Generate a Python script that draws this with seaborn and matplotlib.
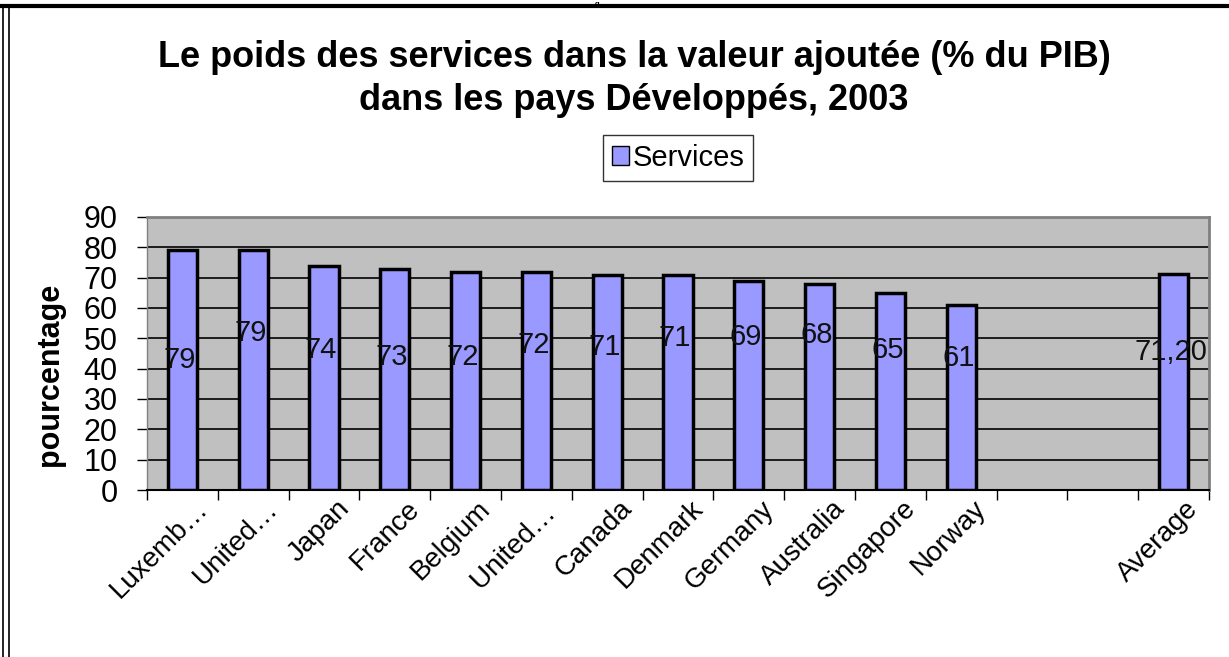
import matplotlib
matplotlib.use("Agg")
import matplotlib.pyplot as plt
import matplotlib.transforms as mtransforms
import seaborn as sns
import pandas as pd
import numpy as np
from matplotlib.patches import Rectangle
from matplotlib.lines import Line2D

categories = ["Luxemb…", "United…", "Japan", "France", "Belgium", "United… ",
              "Canada", "Denmark", "Germany", "Australia", "Singapore", "Norway",
              " ", "  ", "Average"]
values = [79, 79, 74, 73, 72, 72, 71, 71, 69, 68, 65, 61, np.nan, np.nan, 71.2]
value_labels = ["79", "79", "74", "73", "72", "72", "71", "71", "69", "68", "65", "61", "", "", "71,20"]
label_heights = [42.9, 51.8, 46.2, 43.8, 43.8, 47.8, 47.1, 50.1, 50.4, 51.1, 46.2, 43.5, 0, 0, 45.5]
yticks = [0, 10, 20, 30, 40, 50, 60, 70, 80, 90]

sns.set_theme(style="white")
plt.rcParams['font.family'] = ['Liberation Sans', 'DejaVu Sans']
plt.rcParams['text.color'] = 'black'
plt.rcParams['xtick.color'] = 'black'
plt.rcParams['ytick.color'] = 'black'
plt.rcParams['axes.labelcolor'] = 'black'

df = pd.DataFrame({"pays": categories, "Services": values})

fig = plt.figure(figsize=(12.29, 6.57), dpi=100)
ax = fig.add_axes([147/1229, 1-490/657, (1209-147)/1229, (490-217)/657])
ax.set_facecolor("#C0C0C0")

sns.barplot(data=df, x="pays", y="Services", order=categories, ax=ax,
            color="#9999FF", saturation=1, width=0.41,
            edgecolor="black", linewidth=2.5, zorder=3)

ax.set_ylim(0, 90)
ax.set_xlim(-0.5, len(categories) - 0.5)
ax.set_yticks(yticks)
ax.set_yticklabels([str(t) for t in yticks], fontsize=22)
ax.yaxis.grid(True, color="black", linewidth=1.2, zorder=1)
ax.set_axisbelow(True)

ax.set_xticks(range(len(categories)))
ax.set_xticklabels([c if c.strip() else "" for c in categories],
                   rotation=45, ha="right", rotation_mode="anchor", fontsize=20)
ax.tick_params(axis="x", which="major", length=0, pad=4)
ax.tick_params(axis="y", length=7, width=1, color="black", left=True, pad=14)
offset = mtransforms.ScaledTranslation(0.12, 0, fig.dpi_scale_trans)
for lbl in ax.get_xticklabels():
    lbl.set_transform(lbl.get_transform() + offset)
# minor ticks at category boundaries
ax.set_xticks(np.arange(-0.5, len(categories), 1), minor=True)
ax.tick_params(axis="x", which="minor", length=7, width=1, color="black", bottom=True)

ax.set_xlabel("")
ax.set_ylabel("pourcentage", fontsize=22, fontweight="bold")
ax.yaxis.set_label_coords(-82/1062, (490-374)/273)

for side in ["top", "right"]:
    ax.spines[side].set_color("#808080")
    ax.spines[side].set_linewidth(2)
ax.spines["left"].set_color("#808080")
ax.spines["left"].set_linewidth(1)
ax.spines["bottom"].set_color("black")
ax.spines["bottom"].set_linewidth(1.5)

for i, (lab, h) in enumerate(zip(value_labels, label_heights)):
    if lab:
        ax.text(i - 0.04, h, lab, ha="center", va="center", fontsize=21,
                color="#111111", zorder=5)

leg = fig.legend(handles=[Rectangle((0, 0), 1, 1, facecolor="#9999FF", edgecolor="black", linewidth=1)],
                 labels=["Services"], loc="center", bbox_to_anchor=(678/1229, 1-158/657),
                 fontsize=21, frameon=True, fancybox=False, handlelength=0.6,
                 handleheight=0.6, handletextpad=0.1, borderpad=0.3, borderaxespad=0)
leg.get_frame().set_edgecolor("black")
leg.get_frame().set_linewidth(1)

fig.text(634/1229, 1-79/657,
         "Le poids des services dans la valeur ajoutée (% du PIB)\ndans les pays Développés, 2003",
         ha="center", va="center", fontsize=26, fontweight="bold", linespacing=1.3)

# outer frame
fig.add_artist(Line2D([0, 1], [1-6/657, 1-6/657], transform=fig.transFigure, color="black", linewidth=3))
fig.add_artist(Line2D([3/1229, 3/1229], [0, 1-6/657], transform=fig.transFigure, color="black", linewidth=1.2))
fig.add_artist(Line2D([9/1229, 9/1229], [0, 1-6/657], transform=fig.transFigure, color="black", linewidth=1.2))
fig.text(597/1229, 1-1.5/657, "g", ha="center", va="top", fontsize=5.5, fontweight="bold")

fig.savefig("out.png", dpi=100)
